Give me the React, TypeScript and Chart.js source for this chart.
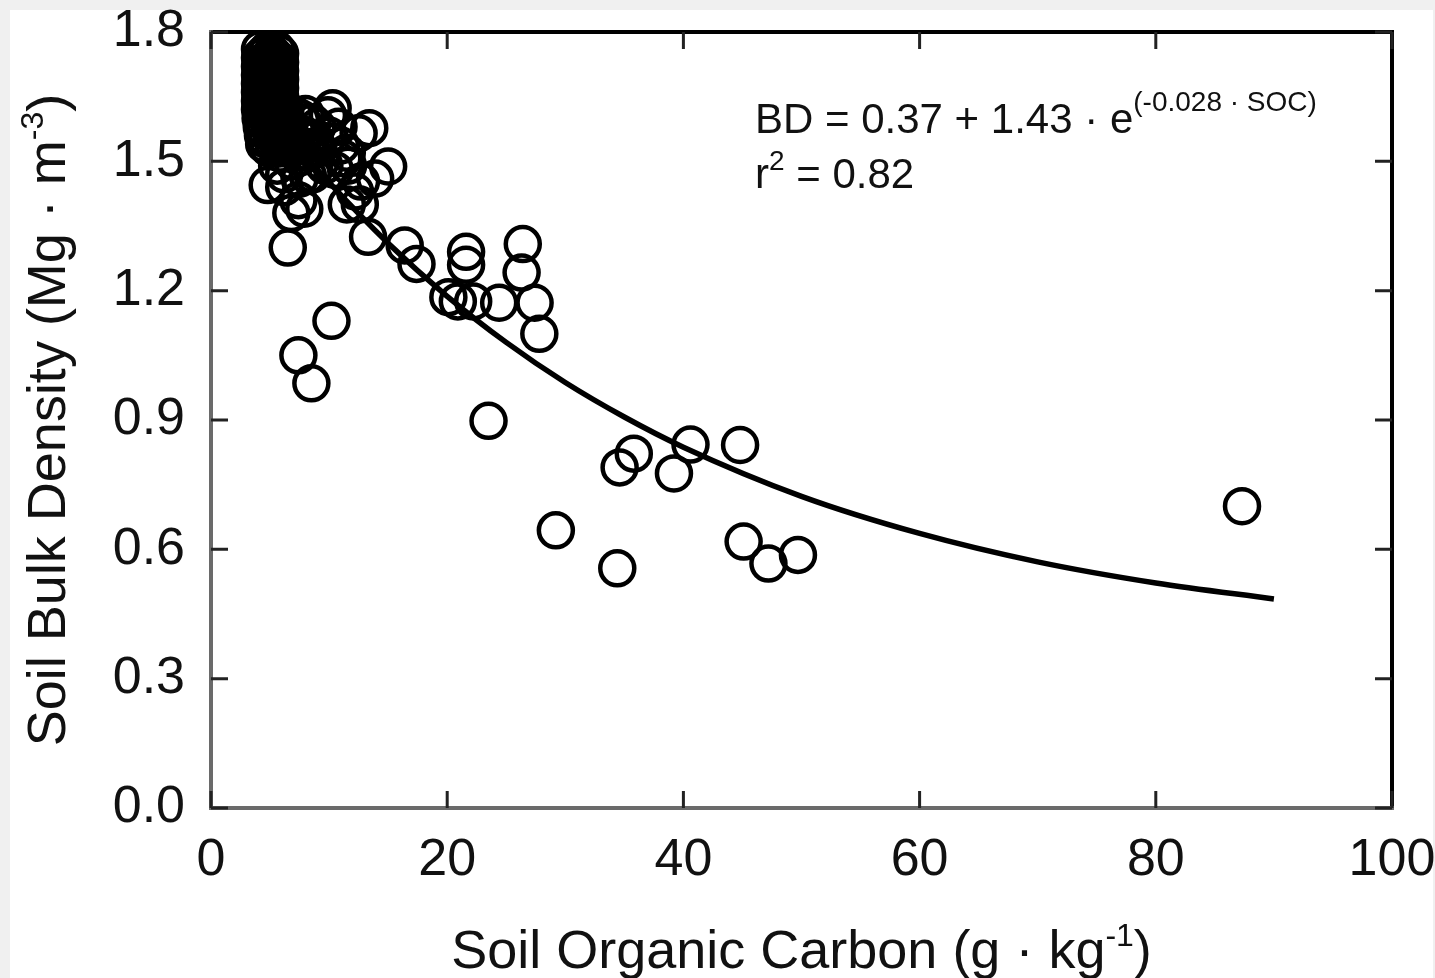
import React, { useEffect, useRef } from "react";
import { Chart, registerables } from "chart.js";

Chart.register(...registerables);

// ---------- data ----------
const xTicks = [0, 20, 40, 60, 80, 100];
const yTicks = [0, 0.3, 0.6, 0.9, 1.2, 1.5, 1.8];

// Soil organic carbon (g/kg) of each sample
const socValues = [
  // dense cluster (low SOC, high BD)
  4.15, 4.85, 5.55, 4.5, 5.2, 5.85,
  4.15, 4.85, 5.55, 4.5, 5.2, 5.85,
  4.15, 4.85, 5.55, 4.5, 5.2, 5.85,
  4.15, 4.85, 5.55, 4.5, 5.2, 5.85,
  4.15, 4.85, 5.55, 4.5, 5.2, 5.85,
  4.15, 4.85, 5.55, 4.5, 5.2, 5.85,
  4.15, 4.85, 5.55, 4.5, 5.2, 5.9,
  4.15, 4.85, 5.6, 4.5, 5.2, 6.0,
  4.2, 4.9, 5.7, 4.5, 5.3, 6.2,
  4.3, 5.0, 5.9, 4.6, 5.5, 6.4,
  4.4, 5.2, 6.1, 4.7, 5.6, 6.6,
  4.5, 5.3, 6.3, 4.9, 5.8, 6.9,
  // rings right of the cluster
  6.6, 7.2, 7.8, 6.4, 7.0, 7.7, 8.4, 6.9, 7.6, 8.3, 9.1,
  6.3, 7.0, 8.0, 6.6, 7.3, 8.0, 8.8, 9.3, 8.6, 7.5, 6.2, 10.0, 10.8, 11.5,
  7.6, 8.6, 9.9, 12.5, 13.4, 15.0, 12.7, 11.2, 4.8, 7.4, 8.2, 9.6, 11.0, 9.0, 10.3,
  11.6, 13.9, 12.2, 7.9, 6.8, 10.5, 11.5, 12.6, 5.6, 6.2,
  // scattered samples
  6.5, 7.4, 8.5, 10.2, 13.3, 16.4, 17.4, 20.1, 20.9, 21.6, 21.6, 22.2, 24.4, 26.4,
  26.3, 27.4, 27.8, 23.5, 29.2, 34.4, 34.6, 35.8, 39.2, 40.6, 44.8, 45.1, 47.2,
  49.7, 87.3,
];

// Soil bulk density (Mg/m3) of each sample
const bdValues = [
  1.76, 1.76, 1.76, 1.75, 1.75, 1.75,
  1.74, 1.74, 1.74, 1.73, 1.73, 1.73,
  1.72, 1.72, 1.72, 1.71, 1.71, 1.71,
  1.70, 1.70, 1.70, 1.69, 1.69, 1.69,
  1.68, 1.68, 1.68, 1.67, 1.67, 1.67,
  1.66, 1.66, 1.66, 1.65, 1.65, 1.65,
  1.64, 1.64, 1.64, 1.63, 1.63, 1.63,
  1.62, 1.62, 1.62, 1.61, 1.61, 1.61,
  1.60, 1.60, 1.60, 1.59, 1.59, 1.59,
  1.58, 1.58, 1.58, 1.57, 1.57, 1.57,
  1.56, 1.56, 1.56, 1.55, 1.55, 1.55,
  1.54, 1.54, 1.54, 1.53, 1.53, 1.53,
  1.58, 1.57, 1.59, 1.53, 1.55, 1.56, 1.55, 1.50, 1.51, 1.52, 1.53,
  1.62, 1.61, 1.61, 1.54, 1.52, 1.56, 1.55, 1.50, 1.47, 1.46, 1.44, 1.56, 1.58, 1.52,
  1.60, 1.59, 1.607, 1.565, 1.577, 1.488, 1.453, 1.507, 1.445, 1.41, 1.467, 1.49, 1.537, 1.58, 1.623,
  1.49, 1.46, 1.43, 1.39, 1.38, 1.48, 1.40, 1.40, 1.49, 1.47,
  1.30, 1.05, 0.985, 1.13, 1.325, 1.305, 1.262, 1.185, 1.175, 1.29, 1.26, 1.175, 1.172, 1.308,
  1.242, 1.172, 1.10, 0.898, 0.644, 0.556, 0.79, 0.822, 0.776, 0.843, 0.842, 0.618, 0.567,
  0.587, 0.70,
];

// fitted curve BD = 0.37 + 1.43 e^(-0.028 SOC), read at these SOC values
const curveSoc = [3, 5, 8, 10, 15, 20, 25, 30, 35, 40, 50, 60, 70, 80, 90];
const curveBd = [1.685, 1.613, 1.513, 1.451, 1.31, 1.187, 1.08, 0.987, 0.907, 0.837, 0.723, 0.637, 0.571, 0.522, 0.485];

const FONT = "'Liberation Sans', Arial, Helvetica, sans-serif";

type Part = { t: string; sup?: boolean };

function drawRich(
  ctx: CanvasRenderingContext2D,
  parts: Part[],
  x: number,
  y: number,
  size: number,
  supSize: number,
  rise: number,
  center: boolean
) {
  const widths = parts.map((p) => {
    ctx.font = `${p.sup ? supSize : size}px ${FONT}`;
    return ctx.measureText(p.t).width;
  });
  const total = widths.reduce((a, b) => a + b, 0);
  let cx = center ? x - total / 2 : x;
  ctx.textBaseline = "alphabetic";
  ctx.textAlign = "left";
  parts.forEach((p, i) => {
    ctx.font = `${p.sup ? supSize : size}px ${FONT}`;
    ctx.fillText(p.t, cx, p.sup ? y - rise : y);
    cx += widths[i];
  });
}

const framePlugin = {
  id: "framePlugin",
  beforeDraw(chart: any) {
    const ctx = chart.ctx as CanvasRenderingContext2D;
    ctx.save();
    ctx.fillStyle = "#f0f0f0";
    ctx.fillRect(0, 0, chart.width, chart.height);
    ctx.fillStyle = "#ffffff";
    ctx.fillRect(10, 10, chart.width - 12, chart.height - 10);
    ctx.restore();
  },
  afterDraw(chart: any) {
    const ctx = chart.ctx as CanvasRenderingContext2D;
    const { left, right, top, bottom } = chart.chartArea;
    const xs = chart.scales.x;
    const ys = chart.scales.y;
    ctx.save();
    // borders
    ctx.lineWidth = 4;
    ctx.strokeStyle = "#000";
    ctx.beginPath();
    ctx.moveTo(left - 2, top);
    ctx.lineTo(right, top);
    ctx.lineTo(right, bottom + 2);
    ctx.stroke();
    ctx.strokeStyle = "#6a6a6a";
    ctx.beginPath();
    ctx.moveTo(left, top - 2);
    ctx.lineTo(left, bottom);
    ctx.lineTo(right + 2, bottom);
    ctx.stroke();
    // inward ticks
    const tl = 17;
    ctx.lineWidth = 3;
    ctx.strokeStyle = "#222";
    yTicks.forEach((v) => {
      const py = ys.getPixelForValue(v);
      ctx.beginPath();
      ctx.moveTo(left, py);
      ctx.lineTo(left + tl, py);
      ctx.moveTo(right, py);
      ctx.lineTo(right - tl, py);
      ctx.stroke();
    });
    xTicks.forEach((v) => {
      const px = xs.getPixelForValue(v);
      ctx.beginPath();
      ctx.moveTo(px, bottom);
      ctx.lineTo(px, bottom - tl);
      ctx.moveTo(px, top);
      ctx.lineTo(px, top + tl);
      ctx.stroke();
    });

    ctx.fillStyle = "#111";
    // x title
    drawRich(
      ctx,
      [{ t: "Soil Organic Carbon (g · kg" }, { t: "-1", sup: true }, { t: ")" }],
      (left + right) / 2,
      968,
      54,
      32,
      22,
      true
    );
    // y title (rotated)
    ctx.save();
    ctx.translate(65, (top + bottom) / 2);
    ctx.rotate(-Math.PI / 2);
    drawRich(
      ctx,
      [{ t: "Soil Bulk Density (Mg · m" }, { t: "-3", sup: true }, { t: ")" }],
      0,
      0,
      54,
      32,
      22,
      true
    );
    ctx.restore();

    // equation
    drawRich(
      ctx,
      [{ t: "BD = 0.37 + 1.43 · e" }, { t: "(-0.028 · SOC)", sup: true }],
      755,
      133,
      42,
      28,
      22,
      false
    );
    drawRich(ctx, [{ t: "r" }, { t: "2", sup: true }, { t: " = 0.82" }], 755, 188, 42, 28, 18, false);
    ctx.restore();
  },
};

export default function App() {
  const ref = useRef<HTMLCanvasElement | null>(null);

  useEffect(() => {
    document.body.style.margin = "0";
    if (!ref.current) return;
    const points = socValues.map((s, i) => ({ x: s, y: bdValues[i] }));
    const curve = curveSoc.map((s, i) => ({ x: s, y: curveBd[i] }));

    const chart = new Chart(ref.current, {
      type: "scatter",
      data: {
        datasets: [
          {
            type: "line",
            label: "Fit",
            data: curve,
            borderColor: "#000",
            borderWidth: 5.5,
            pointRadius: 0,
            fill: false,
            showLine: true,
            cubicInterpolationMode: "monotone",
          } as any,
          {
            type: "scatter",
            label: "Samples",
            data: points,
            pointRadius: 17,
            pointBorderWidth: 4.5,
            pointBorderColor: "#000",
            pointBackgroundColor: "rgba(0,0,0,0)",
            clip: 2,
          } as any,
        ],
      },
      options: {
        responsive: false,
        animation: false,
        devicePixelRatio: 1,
        events: [],
        layout: { padding: { top: 32, right: 43, left: 0, bottom: 0 } },
        plugins: { legend: { display: false }, tooltip: { enabled: false } },
        scales: {
          x: {
            type: "linear",
            min: 0,
            max: 100,
            afterBuildTicks: (s: any) => {
              s.ticks = xTicks.map((v) => ({ value: v }));
            },
            afterFit: (s: any) => {
              s.height = 170;
              s.paddingLeft = 0;
              s.paddingRight = 0;
              s.paddingTop = 0;
              s.paddingBottom = 0;
            },
            ticks: {
              padding: 21,
              color: "#111",
              font: { size: 52, family: FONT },
              maxRotation: 0,
              autoSkip: false,
            },
            grid: { display: false, drawTicks: false },
            border: { display: false },
          },
          y: {
            type: "linear",
            min: 0,
            max: 1.8,
            afterBuildTicks: (s: any) => {
              s.ticks = yTicks.map((v) => ({ value: v }));
            },
            afterFit: (s: any) => {
              s.width = 211;
              s.paddingLeft = 0;
              s.paddingRight = 0;
              s.paddingTop = 0;
              s.paddingBottom = 0;
            },
            ticks: {
              padding: 26,
              color: "#111",
              font: { size: 52, family: FONT },
              callback: (v: any) => Number(v).toFixed(1),
              autoSkip: false,
            },
            grid: { display: false, drawTicks: false },
            border: { display: false },
          },
        },
      } as any,
      plugins: [framePlugin],
    });
    return () => chart.destroy();
  }, []);

  return <canvas ref={ref} width={1435} height={978} style={{ display: "block" }} />;
}
